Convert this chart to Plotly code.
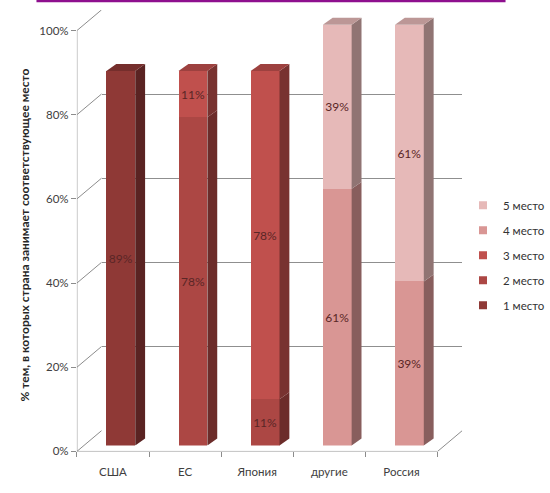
import plotly.graph_objects as go

# ---- data ----
categories = ["США", "ЕС", "Япония", "другие", "Россия"]
series_names = ["1 место", "2 место", "3 место", "4 место", "5 место"]
place_1 = [89, None, None, None, None]
place_2 = [None, 78, 11, None, None]
place_3 = [None, 11, 78, None, None]
place_4 = [None, None, None, 61, 39]
place_5 = [None, None, None, 39, 61]
series_values = [place_1, place_2, place_3, place_4, place_5]
y_ticks = [0, 20, 40, 60, 80, 100]
y_tick_labels = ["0%", "20%", "40%", "60%", "80%", "100%"]

front_colors = ["#8F3936", "#AC4744", "#C0504D", "#D99694", "#E6B9B8"]


def shade(hex_color, k):
    r, g, b = (int(hex_color[i:i + 2], 16) for i in (1, 3, 5))
    return "rgb(%d,%d,%d)" % (r * k, g * k, b * k)


# ---- geometry of the pseudo-3D frame (pixels) ----
W, H = 550, 493
UNIT_Y = 4.26          # px per percent
SLOT = 73.2            # px per category
N = len(categories)
FRONT_LEFT, FRONT_BASE = 78, 457
BAR_DX, BAR_BASE = 8, 451
WALL_DX, WALL_DY = 25, 21
BAR_W = 0.4
DEPTH_X, DEPTH_Y = 10, 7          # bar side / top face depth

wall_dx_u = WALL_DX / SLOT
wall_dy_u = WALL_DY / UNIT_Y
depth_x_u = DEPTH_X / SLOT
depth_y_u = DEPTH_Y / UNIT_Y


def fx(p):
    return p / W


def fy(p):
    return 1 - p / H


fig = go.Figure()

# back wall subplot (carries only the gridlines)
fig.add_trace(go.Scatter(x=[None], y=[None], mode="markers", showlegend=False,
                         hoverinfo="skip", xaxis="x", yaxis="y"))

# ---- bar front faces (stacked) ----
for name, vals, col in zip(series_names, series_values, front_colors):
    fig.add_trace(go.Bar(
        x=list(range(N)), y=vals, name=name, width=BAR_W,
        marker=dict(color=col, line=dict(width=0)),
        texttemplate="%{y}%", textposition="inside", insidetextanchor="middle",
        textangle=0, constraintext="none",
        insidetextfont=dict(family="Lato", size=12, color="#5a2626"),
        showlegend=False, hoverinfo="skip", xaxis="x3", yaxis="y3",
    ))

# ---- side and top faces from the stacked values ----
for i in range(N):
    base = 0
    top_col = None
    for vals, col in zip(series_values, front_colors):
        v = vals[i]
        if v is None:
            continue
        xr = i + BAR_W / 2
        fig.add_trace(go.Scatter(
            x=[xr, xr + depth_x_u, xr + depth_x_u, xr, xr],
            y=[base, base + depth_y_u, base + v + depth_y_u, base + v, base],
            fill="toself", fillcolor=shade(col, 0.63), mode="lines",
            line=dict(width=0), showlegend=False, hoverinfo="skip",
            xaxis="x3", yaxis="y3",
        ))
        base += v
        top_col = col
    xl, xr = i - BAR_W / 2, i + BAR_W / 2
    fig.add_trace(go.Scatter(
        x=[xl, xr, xr + depth_x_u, xl + depth_x_u, xl],
        y=[base, base, base + depth_y_u, base + depth_y_u, base],
        fill="toself", fillcolor=shade(top_col, 0.82), mode="lines",
        line=dict(width=0), showlegend=False, hoverinfo="skip",
        xaxis="x3", yaxis="y3",
    ))

# ---- front axis line, floor edge and side-wall connectors ----
cx, cy = [], []
cx += [-0.5, -0.5, None]
cy += [0, 100, None]
cx += [-0.5, N - 0.5, N - 0.5 + wall_dx_u, None]
cy += [0, 0, wall_dy_u, None]
for v in y_ticks:
    cx += [-0.5, -0.5 + wall_dx_u, None]
    cy += [v, v + wall_dy_u, None]
fig.add_trace(go.Scatter(
    x=cx, y=cy, mode="lines", line=dict(color="#8c8c8c", width=1),
    showlegend=False, hoverinfo="skip", xaxis="x2", yaxis="y2",
))

# ---- legend entries ----
for name, col in reversed(list(zip(series_names, front_colors))):
    fig.add_trace(go.Scatter(
        x=[None], y=[None], mode="markers", name=name, legendgroup=name,
        marker=dict(symbol="square", size=8, color=col),
        xaxis="x3", yaxis="y3",
    ))

bar_top = 100 + depth_y_u + 1
axis_font = dict(family="Lato", size=11.5, color="#404040")

fig.update_layout(
    width=W, height=H,
    margin=dict(l=0, r=0, t=0, b=0),
    paper_bgcolor="white", plot_bgcolor="rgba(0,0,0,0)",
    barmode="stack",
    # back wall with gridlines
    xaxis=dict(domain=[fx(FRONT_LEFT + WALL_DX), fx(FRONT_LEFT + WALL_DX + N * SLOT)],
               range=[-0.5, N - 0.5], showgrid=False, zeroline=False,
               showticklabels=False, ticks="", anchor="y"),
    yaxis=dict(domain=[fy(FRONT_BASE - WALL_DY), fy(FRONT_BASE - WALL_DY - 100 * UNIT_Y)],
               range=[-0.1, 100.1], tickvals=y_ticks, showgrid=True, gridcolor="#8f8f8f",
               gridwidth=1, zeroline=False, showticklabels=False, ticks="", anchor="x"),
    # front plane with ticks and labels
    xaxis2=dict(domain=[fx(FRONT_LEFT), fx(FRONT_LEFT + N * SLOT + WALL_DX)],
                range=[-0.5, N - 0.5 + wall_dx_u], anchor="y2",
                tickvals=list(range(N)), ticktext=categories, ticks="",
                ticklabelstandoff=12,
                minor=dict(tickvals=[k - 0.5 for k in range(N + 1)], ticks="outside",
                           ticklen=5, tickcolor="#8c8c8c", showgrid=False),
                showgrid=False, zeroline=False, tickfont=axis_font),
    yaxis2=dict(domain=[fy(FRONT_BASE), fy(FRONT_BASE - 100 * UNIT_Y - WALL_DY)],
                range=[0, 100 + wall_dy_u], anchor="x2",
                tickvals=y_ticks, ticktext=y_tick_labels, ticks="outside",
                ticklen=5, tickcolor="#8c8c8c", showgrid=False, zeroline=False,
                tickfont=axis_font),
    # bar plane
    xaxis3=dict(domain=[fx(FRONT_LEFT + BAR_DX), fx(FRONT_LEFT + BAR_DX + N * SLOT)],
                range=[-0.5, N - 0.5], visible=False, anchor="y3"),
    yaxis3=dict(domain=[fy(BAR_BASE), fy(BAR_BASE - bar_top * UNIT_Y)],
                range=[0, bar_top], visible=False, anchor="x3"),
    legend=dict(x=fx(470), y=fy(193), xanchor="left", yanchor="top",
                font=dict(family="Lato", size=11.5, color="#333333"),
                tracegroupgap=6, bgcolor="rgba(0,0,0,0)"),
    annotations=[dict(
        text="% тем, в которых страна занимает соответствующее место",
        x=fx(15), y=fy(238), xref="paper", yref="paper", textangle=-90,
        showarrow=False, font=dict(family="Lato", size=12, color="#262626", weight="bold"),
    )],
    shapes=[dict(type="line", xref="paper", yref="paper",
                 x0=fx(37), x1=fx(513), y0=fy(1), y1=fy(1),
                 line=dict(color="#8e0f8e", width=2.5))],
)

fig.write_html("out.html")
